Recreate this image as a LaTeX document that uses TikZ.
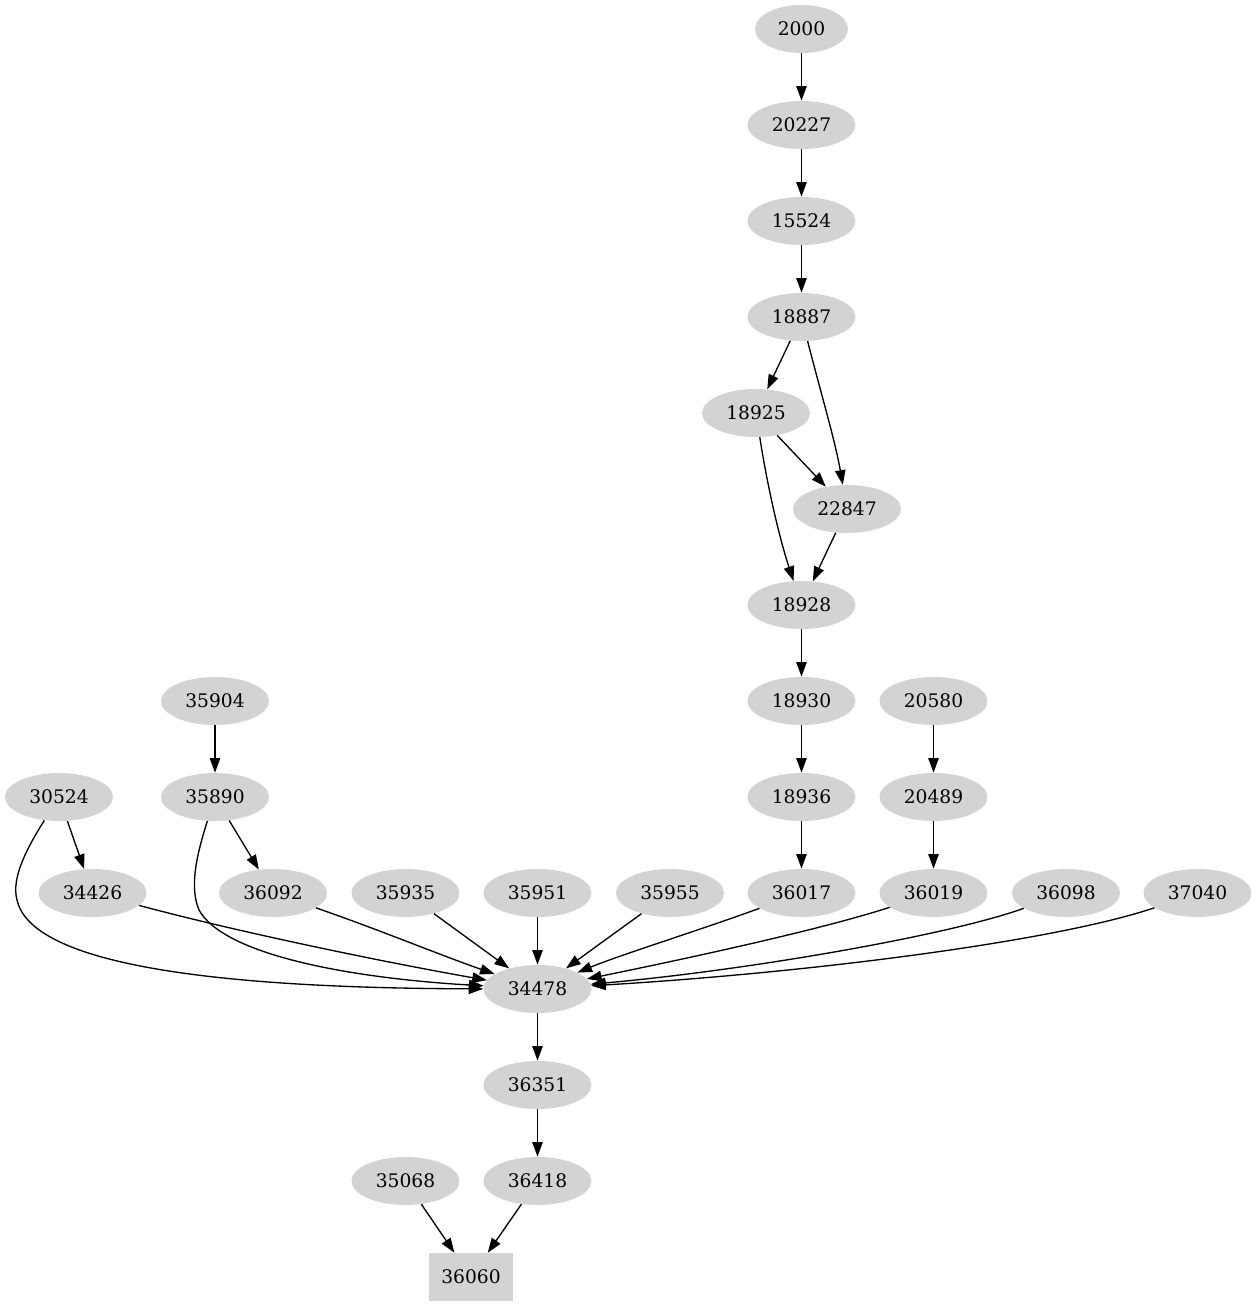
\documentclass[tikz,border=0pt]{standalone}
\usepackage{fontspec}
\setmainfont{DejaVu Serif}
\usetikzlibrary{arrows.meta,shapes.geometric}
\definecolor{nodegray}{HTML}{D3D3D3}
\begin{document}
\begin{tikzpicture}[x=0.75pt,y=-0.75pt,
  nd/.style={ellipse, fill=nodegray, draw=none, inner sep=0pt,
    minimum width=81pt, minimum height=36pt,
    font=\fontsize{14pt}{16pt}\selectfont},
  bx/.style={rectangle, fill=nodegray, draw=none, inner sep=0pt,
    minimum width=63pt, minimum height=36pt,
    font=\fontsize{14pt}{16pt}\selectfont},
  con/.style={-{Triangle[length=11pt,width=7.8pt]}, line width=1pt, black}]
\useasboundingbox (0,0) rectangle (1257,1307);
% nodes
\node[nd, minimum width=69.75pt] (n2000) at (801.5,29) {2000};
\node[nd] (n20227) at (801.5,125) {20227};
\node[nd] (n15524) at (801.5,221) {15524};
\node[nd] (n18887) at (801.5,317) {18887};
\node[nd] (n18925) at (756,413) {18925};
\node[nd] (n22847) at (847,509) {22847};
\node[nd] (n18928) at (801.5,605) {18928};
\node[nd] (n18930) at (801.5,701) {18930};
\node[nd] (n20580) at (933.5,701) {20580};
\node[nd] (n35904) at (215,701) {35904};
\node[nd] (n30524) at (59,797) {30524};
\node[nd] (n35890) at (215,797) {35890};
\node[nd] (n18936) at (801.5,797) {18936};
\node[nd] (n20489) at (933.5,797) {20489};
\node[nd] (n34426) at (92.5,893) {34426};
\node[nd] (n36092) at (273,893) {36092};
\node[nd] (n35935) at (405.5,893) {35935};
\node[nd] (n35951) at (537.5,893) {35951};
\node[nd] (n35955) at (670,893) {35955};
\node[nd] (n36017) at (801.5,893) {36017};
\node[nd] (n36019) at (933.5,893) {36019};
\node[nd] (n36098) at (1066,893) {36098};
\node[nd] (n37040) at (1197.5,893) {37040};
\node[nd] (n34478) at (537.5,989) {34478};
\node[nd] (n36351) at (537.5,1085) {36351};
\node[nd] (n35068) at (405.5,1181) {35068};
\node[nd] (n36418) at (537.5,1181) {36418};
\node[bx] (n36060) at (471,1277) {36060};
% helper coordinates
\coordinate (c1) at (17,900);
\coordinate (c2) at (199,910);
% straight edges
\draw[con] (n2000) -- (n20227);
\draw[con] (n20227) -- (n15524);
\draw[con] (n15524) -- (n18887);
\draw[con] (n18887) -- (n18925);
\draw[con] (n18925) -- (n22847);
\draw[con] (n22847) -- (n18928);
\draw[con] (n18928) -- (n18930);
\draw[con] (n18930) -- (n18936);
\draw[con] (n18936) -- (n36017);
\draw[con] (n20580) -- (n20489);
\draw[con] (n20489) -- (n36019);
\draw[con] (n35904) -- (n35890);
\draw[con] (n30524) -- (n34426);
\draw[con] (n35890) -- (n36092);
\draw[con] (n35935) -- (n34478);
\draw[con] (n35951) -- (n34478);
\draw[con] (n35955) -- (n34478);
\draw[con] (n34478) -- (n36351);
\draw[con] (n36351) -- (n36418);
\draw[con] (n35068) -- (n36060);
\draw[con] (n36418) -- (n36060);
% curved edges
\draw[con] (n18887) .. controls (820,390) and (835,440) .. (n22847);
\draw[con] (n18925) .. controls (768,490) and (780,540) .. (n18928);
\draw[con] (n30524) .. controls (27,848) and (11,878) .. (c1) .. controls (31,962) and (200,988) .. (n34478);
\draw[con] (n35890) .. controls (195,860) and (190,888) .. (c2) .. controls (224,955) and (350,978) .. (n34478);
\draw[con] (n34426) .. controls (250,935) and (400,965) .. (n34478);
\draw[con] (n36092) .. controls (380,930) and (440,955) .. (n34478);
\draw[con] (n36017) .. controls (700,930) and (620,955) .. (n34478);
\draw[con] (n36019) .. controls (820,930) and (680,960) .. (n34478);
\draw[con] (n36098) .. controls (950,935) and (750,970) .. (n34478);
\draw[con] (n37040) .. controls (1060,940) and (820,972) .. (n34478);
\end{tikzpicture}
\end{document}
